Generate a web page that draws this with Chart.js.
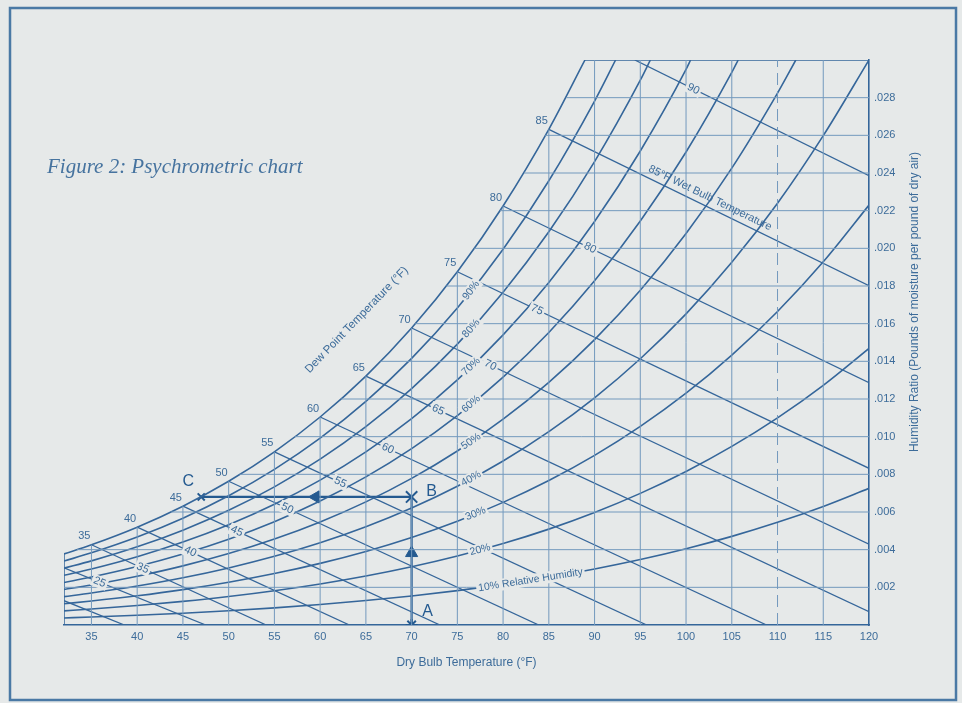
<!DOCTYPE html>
<html>
<head>
<meta charset="utf-8">
<title>Figure 2: Psychrometric chart</title>
<script src="https://cdn.jsdelivr.net/npm/chart.js@4.4.0/dist/chart.umd.min.js"></script>
<style>
  html, body { margin: 0; padding: 0; background: #e6e9e9; }
  canvas { display: block; }
</style>
</head>
<body>
<canvas id="psychro" width="962" height="703"></canvas>
<script>
// Axis ticks: dry bulb (°F) and humidity ratio (lb moisture / lb dry air)
const xTicks = [35, 40, 45, 50, 55, 60, 65, 70, 75, 80, 85, 90, 95, 100, 105, 110, 115, 120];
const yTicks = [0.002, 0.004, 0.006, 0.008, 0.010, 0.012, 0.014, 0.016, 0.018, 0.020, 0.022, 0.024, 0.026, 0.028];

const curveTemps = [32, 35, 40, 45, 50, 55, 60, 65, 70, 75, 80, 85, 90, 95, 100, 105, 110, 115, 120];

// Saturation (100%) and relative humidity curves, one value per curveTemps entry.
// A curve that runs into the top edge (.030) stops there, at its end temperature.
const satW  = [0.003775, 0.004261, 0.005195, 0.006309, 0.007631, 0.009197, 0.011044, 0.013217, 0.015768, 0.018755, 0.022246, 0.026319, 0.030];
const rh90W = [0.003395, 0.003832, 0.004672, 0.005672, 0.006859, 0.008265, 0.009922, 0.011870, 0.014155, 0.016829, 0.019950, 0.023587, 0.027819, 0.030];
const rh80W = [0.003016, 0.003404, 0.004149, 0.005037, 0.006090, 0.007336, 0.008804, 0.010529, 0.012551, 0.014914, 0.017670, 0.020878, 0.024606, 0.028930, 0.030];
const rh70W = [0.002638, 0.002976, 0.003628, 0.004403, 0.005322, 0.006409, 0.007690, 0.009193, 0.010954, 0.013011, 0.015407, 0.018192, 0.021424, 0.025167, 0.029497, 0.030];
const rh60W = [0.002259, 0.002549, 0.003107, 0.003770, 0.004556, 0.005486, 0.006580, 0.007863, 0.009366, 0.011119, 0.013159, 0.015528, 0.018274, 0.021448, 0.025113, 0.029340, 0.030];
const rh50W = [0.001882, 0.002123, 0.002587, 0.003138, 0.003792, 0.004565, 0.005473, 0.006539, 0.007785, 0.009238, 0.010927, 0.012887, 0.015154, 0.017771, 0.020787, 0.024259, 0.028245, 0.030];
const rh40W = [0.001504, 0.001697, 0.002068, 0.002508, 0.003030, 0.003646, 0.004371, 0.005220, 0.006213, 0.007369, 0.008711, 0.010267, 0.012064, 0.014136, 0.016520, 0.019257, 0.022392, 0.025981, 0.030];
const rh30W = [0.001128, 0.001272, 0.001550, 0.001879, 0.002270, 0.002731, 0.003273, 0.003907, 0.004648, 0.005510, 0.006511, 0.007669, 0.009004, 0.010542, 0.012308, 0.014332, 0.016645, 0.019284, 0.022295];
const rh20W = [0.000751, 0.000847, 0.001032, 0.001252, 0.001511, 0.001818, 0.002178, 0.002599, 0.003091, 0.003663, 0.004325, 0.005091, 0.005974, 0.006989, 0.008152, 0.009482, 0.010998, 0.012725, 0.014688];
const rh10W = [0.000375, 0.000423, 0.000516, 0.000625, 0.000755, 0.000908, 0.001087, 0.001297, 0.001542, 0.001826, 0.002155, 0.002535, 0.002973, 0.003475, 0.004049, 0.004705, 0.005451, 0.006298, 0.007258];

const rhLabels = ['10% Relative Humidity', '20%', '30%', '40%', '50%', '60%', '70%', '80%', '90%'];
const rhCurves = [rh10W, rh20W, rh30W, rh40W, rh50W, rh60W, rh70W, rh80W, rh90W];
const rhEndT = [120, 120, 120, 120, 112.0, 105.7, 100.5, 96.1, 92.3];
const satEndT = 88.95;

// Wet bulb lines: start on the saturation curve (or left edge), end on the bottom or right edge
const wbTemps  = [25, 30, 35, 40, 45, 50, 55, 60, 65, 70, 75, 80, 85, 90];
const wbStartT = [32, 32, 35, 40, 45, 50, 55, 60, 65, 70, 75, 80, 85, 94.4];
const wbStartW = [0.00129, 0.00304, 0.004261, 0.005195, 0.006309, 0.007631, 0.009197, 0.011044, 0.013217, 0.015768, 0.018755, 0.022246, 0.026319, 0.030];
const wbEndT   = [38.6, 47.5, 54.1, 63.2, 73.1, 83.9, 95.7, 108.8, 120, 120, 120, 120, 120, 120];
const wbEndW   = [0, 0, 0, 0, 0, 0, 0, 0, 0.00071, 0.00429, 0.00832, 0.01287, 0.01802, 0.02386];
const wbLabels = ['', '25', '35', '40', '45', '50', '55', '60', '65', '70', '75', '80', '85°F Wet Bulb Temperature', '90'];

// Dew point labels along the saturation curve
const dewLabels = [35, 40, 45, 50, 55, 60, 65, 70, 75, 80, 85];

// Grid: verticals every 5°F up to the saturation curve, horizontals every .002 from it
const gridTemps = [35, 40, 45, 50, 55, 60, 65, 70, 75, 80, 85, 90, 95, 100, 105, 110, 115];
const gridW = [0.002, 0.004, 0.006, 0.008, 0.010, 0.012, 0.014, 0.016, 0.018, 0.020, 0.022, 0.024, 0.026, 0.028];
const gridStartT = [32, 33.4, 43.7, 51.2, 57.2, 62.3, 66.6, 70.4, 73.8, 76.85, 79.65, 82.3, 84.6, 86.9];

// Process A -> B -> C
const stateNames = ['A', 'B', 'C'];
const stateT = [70, 70, 47];
const stateW = [0, 0.0068, 0.0068];
const arrowT = [70, 59.5];
const arrowW = [0.00382, 0.0068];

const lineColor = '#35669a';
const gridColor = '#7399bd';
const textColor = '#3d6c9a';
const processColor = '#245a90';
const pageColor = '#e6e9e9';
const frameColor = '#4a79a5';
const sansFont = "'Liberation Sans', Arial, Helvetica, sans-serif";

Chart.defaults.font.family = sansFont;
Chart.defaults.color = textColor;

const datasets = [];
function addLine(points, opts) {
    datasets.push(Object.assign({
        data: points,
        showLine: true,
        pointRadius: 0,
        borderColor: lineColor,
        borderWidth: 1.5,
        fill: false
    }, opts));
}

function curveTempsFor(ws, endT) {
    if (ws.length === curveTemps.length) return curveTemps;
    return curveTemps.slice(0, ws.length - 1).concat([endT]);
}

// grid lines
gridTemps.forEach(t => {
    const top = t <= 85 ? satW[curveTemps.indexOf(t)] : 0.030;
    addLine([{ x: t, y: 0 }, { x: t, y: top }], {
        borderColor: gridColor, borderWidth: 1, borderDash: t === 110 ? [12, 6] : []
    });
});
gridW.forEach((w, i) => {
    addLine([{ x: gridStartT[i], y: w }, { x: 120, y: w }], { borderColor: gridColor, borderWidth: 1 });
});

// left and top edges
addLine([{ x: 32, y: 0 }, { x: 32, y: satW[0] }], {});
addLine([{ x: satEndT, y: 0.030 }, { x: 120, y: 0.030 }], {});

// relative humidity curves + saturation curve
rhCurves.concat([satW]).forEach((ws, i) => {
    const temps = curveTempsFor(ws, i < rhEndT.length ? rhEndT[i] : satEndT);
    addLine(ws.map((w, j) => ({ x: temps[j], y: w })), {
        borderWidth: 1.6, cubicInterpolationMode: 'monotone'
    });
});

// wet bulb lines
wbTemps.forEach((t, i) => {
    addLine([{ x: wbStartT[i], y: wbStartW[i] }, { x: wbEndT[i], y: wbEndW[i] }], { borderWidth: 1.3 });
});

// process lines
addLine([{ x: stateT[1], y: stateW[1] }, { x: stateT[2], y: stateW[2] }], { borderColor: processColor, borderWidth: 2.2 });
addLine([{ x: stateT[0], y: stateW[0] }, { x: stateT[1], y: stateW[1] }], { borderColor: processColor, borderWidth: 2.2 });
datasets.push({
    data: arrowT.map((t, i) => ({ x: t, y: arrowW[i] })),
    showLine: false,
    pointStyle: 'triangle',
    rotation: [0, -90],
    pointRadius: 7,
    backgroundColor: processColor,
    borderColor: processColor,
    borderWidth: 1
});
datasets.push({
    data: stateT.map((t, i) => ({ x: t, y: stateW[i] })),
    showLine: false,
    pointStyle: ['star', 'crossRot', 'crossRot'],
    pointRadius: [6, 8, 5],
    borderColor: processColor,
    borderWidth: 2
});

function drawTag(ctx, text, x, y, angle, font, boxed, lift) {
    ctx.save();
    ctx.translate(x, y);
    ctx.rotate(angle);
    ctx.font = font;
    ctx.textAlign = 'center';
    ctx.textBaseline = 'middle';
    if (boxed) {
        const w = ctx.measureText(text).width + 4;
        ctx.fillStyle = pageColor;
        ctx.fillRect(-w / 2, lift - 6, w, 12);
    }
    ctx.fillStyle = textColor;
    ctx.fillText(text, 0, lift);
    ctx.restore();
}

const labelPlugin = {
    id: 'psychroLabels',
    beforeDraw(chart) {
        const ctx = chart.ctx;
        ctx.save();
        ctx.fillStyle = pageColor;
        ctx.fillRect(0, 0, chart.width, chart.height);
        ctx.strokeStyle = frameColor;
        ctx.lineWidth = 2.5;
        ctx.strokeRect(10, 8, 946, 692);
        ctx.restore();
    },
    afterDatasetsDraw(chart) {
        const ctx = chart.ctx;
        const xs = chart.scales.x, ys = chart.scales.y;
        const px = t => xs.getPixelForValue(t);
        const py = w => ys.getPixelForValue(w);

        // dew point numbers on the saturation curve
        ctx.save();
        ctx.fillStyle = textColor;
        ctx.font = '11px ' + sansFont;
        ctx.textAlign = 'right';
        ctx.textBaseline = 'bottom';
        dewLabels.forEach(t => {
            ctx.fillText(String(t), px(t) - 1, py(satW[curveTemps.indexOf(t)]) - 3);
        });
        ctx.restore();

        drawTag(ctx, 'Dew Point Temperature (°F)', px(64.0), py(0.0162), -46 * Math.PI / 180, '11.5px ' + sansFont, false, 0);

        // wet bulb labels
        const wbLabelT = [0, 35.9, 40.6, 45.8, 50.9, 56.4, 62.2, 67.4, 72.9, 78.6, 83.7, 89.5, 102.2, 100.8];
        wbLabels.forEach((text, i) => {
            if (!text) return;
            const t = wbLabelT[i];
            const f = (t - wbStartT[i]) / (wbEndT[i] - wbStartT[i]);
            const w = wbStartW[i] + f * (wbEndW[i] - wbStartW[i]);
            const ang = Math.atan2(py(wbEndW[i]) - py(wbStartW[i]), px(wbEndT[i]) - px(wbStartT[i]));
            const long = text.length > 3;
            drawTag(ctx, text, px(t), py(w), ang, '11px ' + sansFont, !long, long ? -9 : 0);
        });

        // relative humidity labels
        const rhLabelT = [83, 77.5, 77, 76.5, 76.5, 76.5, 76.5, 76.5, 76.5];
        rhLabels.forEach((text, i) => {
            const ws = rhCurves[i];
            const temps = curveTempsFor(ws, rhEndT[i]);
            const t = rhLabelT[i];
            let j = 0;
            while (j < temps.length - 2 && temps[j + 1] < t) j++;
            const f = (t - temps[j]) / (temps[j + 1] - temps[j]);
            const w = ws[j] + f * (ws[j + 1] - ws[j]);
            const ang = Math.atan2(py(ws[j + 1]) - py(ws[j]), px(temps[j + 1]) - px(temps[j]));
            drawTag(ctx, text, px(t), py(w), ang, '10.5px ' + sansFont, true, 0);
        });

        // state point letters
        const letterDx = [16, 20, -13];
        const letterDy = [-13, -5, -15];
        ctx.save();
        ctx.fillStyle = processColor;
        ctx.font = '16px ' + sansFont;
        ctx.textAlign = 'center';
        ctx.textBaseline = 'middle';
        stateNames.forEach((n, i) => {
            ctx.fillText(n, px(stateT[i]) + letterDx[i], py(stateW[i]) + letterDy[i]);
        });
        ctx.restore();

        // right axis title, reading bottom to top
        ctx.save();
        ctx.translate(915, 302);
        ctx.rotate(-Math.PI / 2);
        ctx.fillStyle = textColor;
        ctx.font = '12px ' + sansFont;
        ctx.textAlign = 'center';
        ctx.textBaseline = 'middle';
        ctx.fillText('Humidity Ratio (Pounds of moisture per pound of dry air)', 0, 0);
        ctx.restore();

        // figure caption
        ctx.save();
        ctx.fillStyle = '#46739f';
        ctx.font = "italic 21px 'Liberation Serif', 'DejaVu Serif', serif";
        ctx.textAlign = 'left';
        ctx.textBaseline = 'alphabetic';
        ctx.fillText('Figure 2: Psychrometric chart', 47, 173);
        ctx.restore();
    }
};

new Chart(document.getElementById('psychro').getContext('2d'), {
    type: 'scatter',
    data: { datasets: datasets },
    options: {
        responsive: false,
        animation: false,
        layout: { padding: { left: 64, top: 60, right: 0, bottom: 0 } },
        plugins: { legend: { display: false }, tooltip: { enabled: false } },
        scales: {
            x: {
                type: 'linear',
                position: 'bottom',
                min: 32,
                max: 120,
                afterBuildTicks: s => { s.ticks = xTicks.map(v => ({ value: v })); },
                afterFit: s => { s.height = 78; },
                grid: { display: false, drawTicks: false },
                border: { display: true, color: lineColor, width: 1.6 },
                ticks: {
                    color: textColor, font: { size: 11 }, padding: 5,
                    maxRotation: 0, autoSkip: false,
                    callback: v => String(v)
                },
                title: {
                    display: true,
                    text: 'Dry Bulb Temperature (°F)',
                    color: textColor,
                    font: { size: 12 },
                    padding: { top: 0, bottom: 33 }
                }
            },
            y: {
                type: 'linear',
                position: 'right',
                min: 0,
                max: 0.030,
                afterBuildTicks: s => { s.ticks = yTicks.map(v => ({ value: v })); },
                afterFit: s => { s.width = 93; },
                grid: { display: false, drawTicks: false },
                border: { display: true, color: lineColor, width: 1.6 },
                ticks: {
                    color: textColor, font: { size: 11 }, padding: 5,
                    callback: v => v.toFixed(3).slice(1)
                }
            }
        }
    },
    plugins: [labelPlugin]
});
</script>
</body>
</html>
